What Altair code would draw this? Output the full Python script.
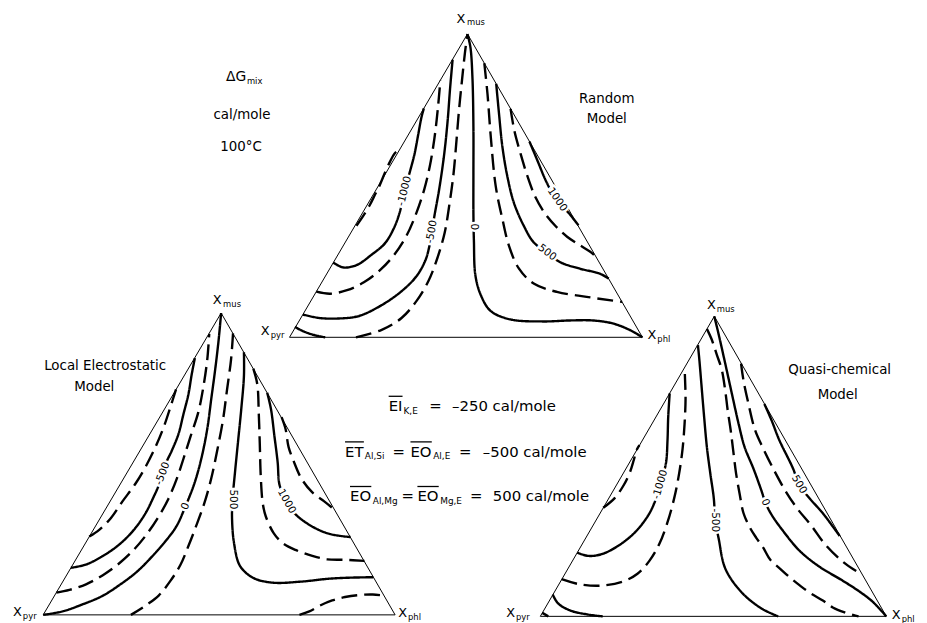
import altair as alt
import pandas as pd

# ---------------- triangle outlines (apex, X_pyr corner, X_phl corner) ----------------
top_triangle = [(471.5, 31.5), (292, 337.5), (648, 337.5)]
left_triangle = [(223, 313), (43.5, 617.5), (398.5, 617.5)]
right_triangle = [(720.5, 316.3), (545, 619), (894, 619)]

# ---------------- Random model (top) contours ----------------
top_s1 = [(297.5, 327), (305, 331), (316, 335), (328, 337.5)]
top_m1250 = [(359.5, 225), (367, 214), (373, 204), (378, 194), (383, 184), (388, 172),
             (393, 161), (398, 152), (403.5, 147.5)]
top_m1000 = [(336, 262), (346, 267), (360, 264.5), (375, 254), (388, 243), (397, 228), (403, 212),
             (408, 190), (413, 172), (418, 153), (422, 132), (425, 116), (427.5, 106.5)]
top_m750 = [(319, 291.5), (333, 293.5), (350, 290), (367, 282), (383, 270), (397, 255), (410, 235),
            (420, 212), (428, 188), (433.5, 165), (438, 138), (441.5, 108), (444.2, 78)]
top_m500 = [(305.5, 314.5), (322, 318), (342, 318.5), (362, 316), (385, 305), (405, 291), (420, 276),
            (429, 260), (433, 246), (435.5, 232), (438, 216), (443, 188), (448, 153), (451.5, 119),
            (454, 86), (456.5, 57.5)]
top_m250 = [(359, 337.5), (385, 330), (405, 318), (420, 301), (432, 281), (441, 258), (448.5, 232),
            (453.5, 202), (457.5, 172), (460.5, 138), (463, 108), (466, 78), (469, 50), (471.5, 31.5)]
top_0 = [(471.5, 31.5), (474.5, 45), (476.5, 75), (477.5, 125), (477.5, 175), (477.5, 212), (478, 240),
         (479.5, 275), (485, 295), (495, 311), (515, 319.5), (548, 321.5), (575, 320.5), (598, 320.5),
         (618, 323.5), (635, 330), (648, 337.5)]
top_250 = [(488.5, 61), (491.7, 92), (495, 135), (500, 185), (506.7, 218), (513.3, 245), (523.3, 268),
           (538.3, 283.3), (561.7, 291.7), (591.7, 296.7), (618.3, 300.5), (627.5, 301.7)]
top_500 = [(500.5, 81.7), (503.3, 111.7), (506.7, 145), (511.7, 175), (518.3, 201.7), (528.3, 225),
           (538.3, 241.7), (551.7, 252), (565, 261.7), (585, 268.3), (605, 273.3), (614, 278.3)]
top_750 = [(515, 107), (519, 130), (525, 152), (532, 175), (540, 196), (550, 213), (561, 226),
           (572, 236), (584, 244), (595, 251), (601, 256)]
top_1000 = [(534, 140), (541.7, 158.3), (550, 178.3), (556, 190), (561.7, 198.3), (567, 205),
            (573.3, 211.7), (583.5, 224.5)]

# ---------------- Local Electrostatic model (bottom left) contours ----------------
bl_m750 = [(90, 538.5), (100, 531.7), (111.7, 520), (123.3, 503.3), (136.7, 485), (146.7, 468.3),
           (156.7, 448.3), (165, 428.3), (171.7, 408.3), (177.5, 390)]
bl_m500 = [(71.5, 570), (86.7, 566.7), (103.3, 558.3), (120, 546.7), (135, 531.7), (146.7, 515),
           (155, 498.3), (160, 487), (164, 475), (168, 463), (173.3, 451.7), (180, 435), (185, 415),
           (190, 395), (193.3, 375), (196.5, 358.5)]
bl_m250 = [(56.8, 595), (70, 592.3), (86.7, 586.7), (103.3, 577.7), (120, 565.7), (135, 551.7),
           (148.3, 535.7), (160, 518.3), (170, 500), (178.3, 480), (185, 460), (192, 438), (200, 413),
           (205, 388), (209, 360), (211, 334)]
bl_0 = [(223, 313), (220.5, 340), (217, 370), (213, 400), (209, 430), (203, 460), (196, 485), (187, 508),
        (178, 528), (167, 543), (153, 559), (138, 574), (121, 587), (103, 598.5), (83, 607), (63, 614),
        (43.5, 617.5)]
bl_250 = [(235, 333.5), (233, 360), (229, 390), (225, 420), (219, 452), (213, 480), (206, 505),
          (197, 530), (190, 548), (182, 567), (172, 583), (160, 598), (147, 608), (132, 617.5)]
bl_500 = [(246, 352.5), (246, 376.7), (243.3, 410), (240, 443.3), (236.7, 476.7), (234.5, 501),
          (234, 520), (236, 545), (242, 568), (255, 580), (275, 585), (303, 584), (332, 581), (352, 580),
          (376.5, 579.5)]
bl_750 = [(255.5, 369), (259.5, 385), (261, 415), (262, 445), (263, 478), (265, 505), (268, 518),
          (276, 535), (285, 545), (298, 552), (315, 558), (330, 561.5), (348, 562), (367.5, 563)]
bl_1000 = [(269.5, 393.5), (273.3, 410), (276.7, 436.7), (280, 463.3), (282, 486.7), (289, 503),
           (298, 516), (316, 529), (333, 536), (353.5, 539)]
bl_1250 = [(284, 418), (288, 430), (291, 448), (296, 462), (304, 480), (315, 494), (327, 503),
           (337.5, 511.5)]
bl_base = [(302, 617.5), (312, 614), (322, 608.5), (335, 603), (348, 599.5), (362, 597.5), (376, 597),
           (387.5, 598)]

# ---------------- Quasi-chemical model (bottom right) contours ----------------
br_m1250 = [(608.5, 509.5), (620, 499.7), (628.3, 488), (635, 474.7), (639.3, 461.3), (642, 451.5),
            (645, 446.3)]
br_m1000 = [(582.3, 554.7), (593.3, 558), (606.7, 556.3), (623.3, 548), (640, 534.7), (653.3, 518),
            (660, 504.7), (666, 486), (671.7, 464.7), (673.3, 441.3), (674, 418), (675.5, 394)]
br_m750 = [(566.5, 581.5), (584, 586.5), (606, 588), (628, 584), (643, 576), (655, 563), (665, 546),
           (673, 525), (680, 500), (685, 475), (688.5, 450), (690.5, 425), (691.5, 400), (691, 380),
           (690.5, 368)]
br_corner_a = [(557.5, 597), (563, 606), (575, 613), (592, 617), (608, 619)]
br_corner_b = [(547, 615.5), (553, 619)]
br_m500 = [(704, 345.5), (705.5, 361), (707.5, 385), (710, 415), (713, 448), (716.5, 475), (720, 500),
           (721.5, 522), (725, 541), (731.7, 571), (748, 594.7), (768, 611), (785, 619)]
br_m250 = [(713, 329), (718, 340), (723, 355), (728, 370), (731.5, 391), (734, 411), (737, 431),
           (739.5, 451), (742.5, 475), (746, 495), (750, 515), (756.7, 530), (763, 540), (770, 550),
           (777, 562), (787, 571), (797, 580), (807, 588), (818, 596), (830, 603), (840, 610), (852, 615),
           (866, 619)]
br_0 = [(720.5, 316.3), (725, 335), (731.7, 364.7), (738.3, 394.7), (745, 424.7), (751, 448), (760, 470),
        (768, 492), (772, 504), (778, 516), (790, 533), (806.7, 553), (826.7, 569), (850, 583), (867, 594),
        (880, 604), (894, 619)]
br_250 = [(747.5, 364), (750, 381.3), (755, 404.7), (761.7, 431.3), (770, 450), (781, 472), (792, 492),
          (804, 510), (818, 527), (832, 546), (848, 562), (860, 571), (869.5, 576.5)]
br_500 = [(771, 404.7), (778.3, 421.3), (786, 441), (800, 470), (806, 486), (816.7, 500), (830, 515),
          (847, 538)]

# ---------------- contour value labels ----------------
label_text = ["-1000", "-500", "0", "500", "1000",
              "-500", "0", "500", "1000",
              "-1000", "-500", "0", "500"]
label_x = [408, 435.5, 478, 552, 562, 164, 187, 234.5, 289, 666, 721.5, 772, 806]
label_y = [190, 231, 226, 252, 198.5, 475, 508, 501, 503, 486, 522, 504, 486]
label_angle = [284, 280, 90, 37, 55, 291, 293, 90, 61, 286, 90, 67, 60]

# ---------------- vertex labels ----------------
vertex_x = [465, 267.5, 657.5, 219, 17.5, 406, 717.5, 515, 904]
vertex_y = [16, 331, 335, 300, 615, 616, 305, 616, 618]
vertex_sub = ["mus", "pyr", "phl", "mus", "pyr", "phl", "mus", "pyr", "phl"]
vertex_sub_x = [471, 273, 663, 225, 23, 411.5, 723, 520.5, 909.5]
vertex_sub_y = [19.5, 335, 339, 303.5, 619, 620, 308.5, 620, 621.5]

# ---------------- free text ----------------
note_text = ["cal/mole", "100\u00b0C", "Random", "Model", "Local Electrostatic", "Model",
             "Quasi-chemical", "Model"]
note_x = [244, 243, 612, 612, 106, 95, 847, 845]
note_y = [113, 146, 97, 117, 366, 388, 371, 396]

dg_text = ["\u0394G"]
dg_x = [228]
dg_y = [75]
dg_sub = ["mix"]
dg_sub_x = [249]
dg_sub_y = [79]

eq_text = ["EI", "=", "\u2013250 cal/mole",
           "ET", "=", "EO", "=", "\u2013500 cal/mole",
           "EO", "=", "EO", "=", "500 cal/mole"]
eq_x = [392, 433, 456, 348, 396, 414, 463, 487, 353, 405, 421, 474, 497]
eq_y = [407, 407, 407, 453, 453, 453, 453, 453, 498, 498, 498, 498, 498]
eq_sub = ["K,E", "Al,Si", "Al,E", "Al,Mg", "Mg,E"]
eq_sub_x = [407, 368, 437, 376, 444]
eq_sub_y = [411.5, 457.5, 457.5, 502.5, 502.5]
bar_x = [392, 348, 414, 353, 421]
bar_x2 = [406, 367, 435.5, 374.5, 442.5]
bar_y = [397, 443, 443, 488, 488]

# ---------------- assemble tables ----------------
SOLID, DASHED = "solid", "dashed"
curve_list = [
    ("top_s1", top_s1, SOLID), ("top_m1250", top_m1250, DASHED), ("top_m1000", top_m1000, SOLID),
    ("top_m750", top_m750, DASHED), ("top_m500", top_m500, SOLID), ("top_m250", top_m250, DASHED),
    ("top_0", top_0, SOLID), ("top_250", top_250, DASHED), ("top_500", top_500, SOLID),
    ("top_750", top_750, DASHED), ("top_1000", top_1000, SOLID),
    ("bl_m750", bl_m750, DASHED), ("bl_m500", bl_m500, SOLID), ("bl_m250", bl_m250, DASHED),
    ("bl_0", bl_0, SOLID), ("bl_250", bl_250, DASHED), ("bl_500", bl_500, SOLID),
    ("bl_750", bl_750, DASHED), ("bl_1000", bl_1000, SOLID), ("bl_1250", bl_1250, DASHED),
    ("bl_base", bl_base, DASHED),
    ("br_m1250", br_m1250, DASHED), ("br_m1000", br_m1000, SOLID), ("br_m750", br_m750, DASHED),
    ("br_corner_a", br_corner_a, SOLID), ("br_corner_b", br_corner_b, SOLID),
    ("br_m500", br_m500, SOLID), ("br_m250", br_m250, DASHED), ("br_0", br_0, SOLID),
    ("br_250", br_250, DASHED), ("br_500", br_500, SOLID),
]
rows = []
for name, pts, style in curve_list:
    for i, (px, py) in enumerate(pts):
        rows.append({"curve": name, "i": i, "x": px, "y": py, "style": style})
curves_df = pd.DataFrame(rows)

tri_rows = []
for name, pts in [("top", top_triangle), ("left", left_triangle), ("right", right_triangle)]:
    for i, (px, py) in enumerate(pts + [pts[0]]):
        tri_rows.append({"tri": name, "i": i, "x": px, "y": py})
tri_df = pd.DataFrame(tri_rows)

labels_df = pd.DataFrame({"t": label_text, "x": label_x, "y": label_y, "a": label_angle})
vertex_df = pd.DataFrame({"t": ["X"] * len(vertex_x), "x": vertex_x, "y": vertex_y})
vsub_df = pd.DataFrame({"t": vertex_sub, "x": vertex_sub_x, "y": vertex_sub_y})
note_df = pd.DataFrame({"t": note_text, "x": note_x, "y": note_y})
dg_df = pd.DataFrame({"t": dg_text, "x": dg_x, "y": dg_y})
dgsub_df = pd.DataFrame({"t": dg_sub, "x": dg_sub_x, "y": dg_sub_y})
eq_df = pd.DataFrame({"t": eq_text, "x": eq_x, "y": eq_y})
eqsub_df = pd.DataFrame({"t": eq_sub, "x": eq_sub_x, "y": eq_sub_y})
bar_df = pd.DataFrame({"x": bar_x, "x2": bar_x2, "y": bar_y})

# ---------------- chart ----------------
FONT = "DejaVu Sans"
X = alt.X("x:Q", scale=alt.Scale(domain=[8, 927], nice=False, zero=False), axis=None)
Y = alt.Y("y:Q", scale=alt.Scale(domain=[8, 623], nice=False, zero=False, reverse=True), axis=None)

triangles = alt.Chart(tri_df).mark_line(color="black", strokeWidth=1).encode(
    x=X, y=Y, detail="tri:N", order="i:Q")

curves = alt.Chart(curves_df).mark_line(
    color="black", strokeWidth=2.4, strokeCap="butt", interpolate="catmull-rom"
).encode(
    x=X, y=Y, detail="curve:N", order="i:Q",
    strokeDash=alt.StrokeDash("style:N", legend=None,
                              scale=alt.Scale(domain=[SOLID, DASHED], range=[[1, 0], [16, 7]])),
)

halo = alt.Chart(labels_df).mark_text(
    font=FONT, fontSize=10.5, color="white", stroke="white", strokeWidth=5,
    align="center", baseline="middle"
).encode(x=X, y=Y, text="t:N", angle=alt.Angle("a:Q", scale=None))
labels = alt.Chart(labels_df).mark_text(
    font=FONT, fontSize=10.5, color="black", align="center", baseline="middle"
).encode(x=X, y=Y, text="t:N", angle=alt.Angle("a:Q", scale=None))

def text_layer(df, size, align="center"):
    return alt.Chart(df).mark_text(
        font=FONT, fontSize=size, color="black", align=align, baseline="middle"
    ).encode(x=X, y=Y, text="t:N")

vertices = text_layer(vertex_df, 13)
vsubs = text_layer(vsub_df, 8.5, "left")
notes = text_layer(note_df, 13.5)
dg = text_layer(dg_df, 14, "left")
dgsub = text_layer(dgsub_df, 8.5, "left")
eq = text_layer(eq_df, 15, "left")
eqsub = text_layer(eqsub_df, 9, "left")
bars = alt.Chart(bar_df).mark_rule(color="black", strokeWidth=1.3).encode(
    x=X, x2="x2:Q", y=Y)

chart = alt.layer(
    triangles, curves, halo, labels, vertices, vsubs, notes, dg, dgsub, eq, eqsub, bars
).properties(
    width=919, height=615, padding=0,
    autosize=alt.AutoSizeParams(type="none"),
).configure_view(stroke=None)

chart.save("out.html", embed_options={"renderer": "svg", "actions": False})
